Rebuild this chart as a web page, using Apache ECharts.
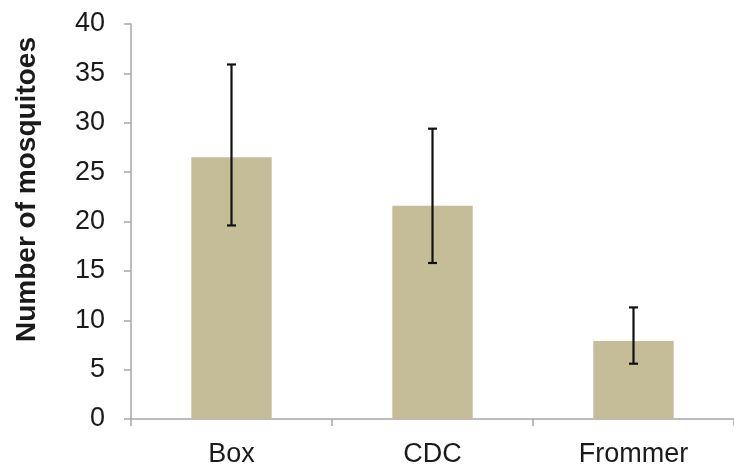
<!DOCTYPE html>
<html><head><meta charset="utf-8">
<script src="https://cdn.jsdelivr.net/npm/echarts@6/dist/echarts.min.js"></script>
<style>html,body{margin:0;padding:0;background:#fff}#c{width:734px;height:468px}</style>
</head><body><div id="c"></div>
<script>
const categories = ['Box', 'CDC', 'Frommer'];
const meanValues = [26.5, 21.6, 7.9];
const errLow = [19.6, 15.8, 5.6];
const errHigh = [35.9, 29.4, 11.3];
const yTicks = [0, 5, 10, 15, 20, 25, 30, 35, 40];

const chart = echarts.init(document.getElementById('c'));
const font = '"Liberation Sans", Arial, sans-serif';
chart.setOption({
  animation: false,
  grid: { left: 131, right: 0, top: 24, bottom: 48 },
  xAxis: {
    type: 'category', data: categories,
    axisLine: { lineStyle: { color: '#a6a6a6', width: 1.5 } },
    axisTick: { show: true, length: 7, lineStyle: { color: '#a6a6a6', width: 1.5 } },
    axisLabel: { color: '#1a1a1a', fontSize: 27, fontFamily: font, margin: 22 }
  },
  yAxis: {
    type: 'value', min: yTicks[0], max: yTicks[yTicks.length - 1], interval: 5,
    name: 'Number of mosquitoes', nameLocation: 'middle', nameGap: 90,
    nameTextStyle: { fontSize: 28, fontWeight: 'bold', fontFamily: font, color: '#1a1a1a', padding: [0, 0, 0, 64] },
    axisLine: { show: true, lineStyle: { color: '#a6a6a6', width: 1.5 } },
    axisTick: { show: true, length: 7, lineStyle: { color: '#a6a6a6', width: 1.5 } },
    splitLine: { show: false },
    axisLabel: { color: '#1a1a1a', fontSize: 27, fontFamily: font, margin: 26 }
  },
  series: [
    {
      type: 'bar', data: meanValues, barWidth: '40%',
      itemStyle: { color: '#c4bd97' }
    },
    {
      type: 'custom',
      data: categories.map((c, i) => [i, errLow[i], errHigh[i]]),
      renderItem: function (params, api) {
        const lo = api.coord([api.value(0), api.value(1)]);
        const hi = api.coord([api.value(0), api.value(2)]);
        const w = 4.5;
        const st = { stroke: '#111', lineWidth: 2.2 };
        return {
          type: 'group', children: [
            { type: 'line', shape: { x1: lo[0], y1: lo[1], x2: hi[0], y2: hi[1] }, style: st },
            { type: 'line', shape: { x1: lo[0] - w, y1: lo[1], x2: lo[0] + w, y2: lo[1] }, style: st },
            { type: 'line', shape: { x1: hi[0] - w, y1: hi[1], x2: hi[0] + w, y2: hi[1] }, style: st }
          ]
        };
      },
      z: 10
    }
  ]
});
</script></body></html>
